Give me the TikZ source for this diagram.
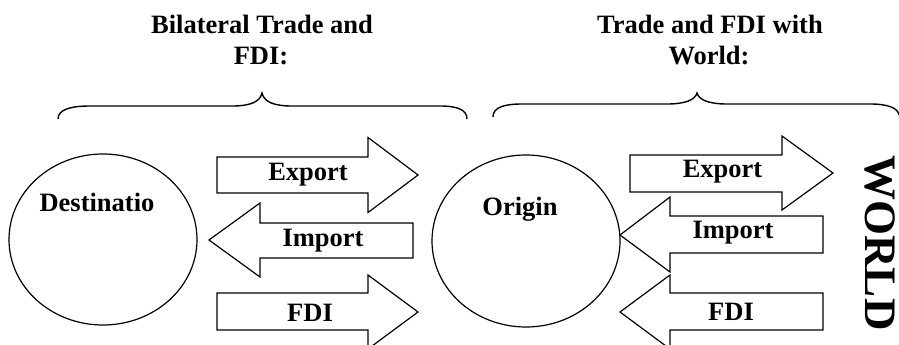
\documentclass[tikz,border=0pt]{standalone}
\usepackage{fontspec}
\setmainfont{Liberation Serif}
\begin{document}
\begin{tikzpicture}[x=1pt,y=-1pt,
  lbl/.style={font=\fontsize{26.5}{31}\selectfont\bfseries, inner sep=0pt, anchor=base},
  shp/.style={draw=black, line width=1.2pt, fill=white, line join=miter},
  brace/.style={draw=black, line width=1.4pt}]
\useasboundingbox (0,0) rectangle (899,345);
\fill[white] (0,0) rectangle (899,345);
% titles
\node[lbl] (t1a) at (262,34) {Bilateral Trade and};
\node[lbl] (t1b) at (261,65) {FDI:};
\node[lbl] (t2a) at (710,34) {Trade and FDI with};
\node[lbl] (t2b) at (709,65) {World:};
% braces
\draw[brace] (58,119) .. controls (58,109) and (72,106) .. (90,106) -- (232,106)
  .. controls (250,106) and (260,102) .. (262,93)
  .. controls (264,102) and (274,106) .. (292,106) -- (440,106)
  .. controls (458,106) and (467,110) .. (467,119);
\draw[brace] (493,117) .. controls (493,107) and (505,104) .. (522,104) -- (667,104)
  .. controls (685,104) and (695,100) .. (697,93)
  .. controls (699,100) and (709,104) .. (727,104) -- (870,104)
  .. controls (888,104) and (898,108) .. (899,115);
% circles
\draw[shp] (103,239.5) ellipse [x radius=94, y radius=85.5];
\draw[shp] (526,241) ellipse [x radius=94, y radius=86];
\node[lbl] (dest) at (97,211.7) {Destinatio};
\node[lbl] (orig) at (520,215) {Origin};
% left arrows
\draw[shp] (217,157) -- (368,157) -- (368,137.5) -- (418,175) -- (368,212.5) -- (368,193) -- (217,193) -- cycle;
\draw[shp] (413,223) -- (260,223) -- (260,203) -- (209,240) -- (260,277) -- (260,258) -- (413,258) -- cycle;
\draw[shp] (217,293) -- (368,293) -- (368,275) -- (418,312) -- (368,349) -- (368,330) -- (217,330) -- cycle;
\node[lbl] (ex1) at (308,180.7) {Export};
\node[lbl] (im1) at (323,246.7) {Import};
\node[lbl] (fd1) at (310,321.7) {FDI};
% right arrows
\draw[shp] (630,155) -- (782,155) -- (782,136) -- (833,173) -- (782,210) -- (782,192) -- (630,192) -- cycle;
\draw[shp] (823,216) -- (670,216) -- (670,197) -- (620,235) -- (670,272) -- (670,253) -- (823,253) -- cycle;
\draw[shp] (823,293) -- (670,293) -- (670,275) -- (620,312) -- (670,349) -- (670,330) -- (823,330) -- cycle;
\node[lbl] (ex2) at (722.5,177.3) {Export};
\node[lbl] (im2) at (733,238.3) {Import};
\node[lbl] (fd2) at (731,320) {FDI};
% WORLD
\node[font=\fontsize{45}{50}\selectfont\bfseries, inner sep=0pt, anchor=base, rotate=-90] (world) at (865,243) {WORLD};
\end{tikzpicture}
\end{document}
